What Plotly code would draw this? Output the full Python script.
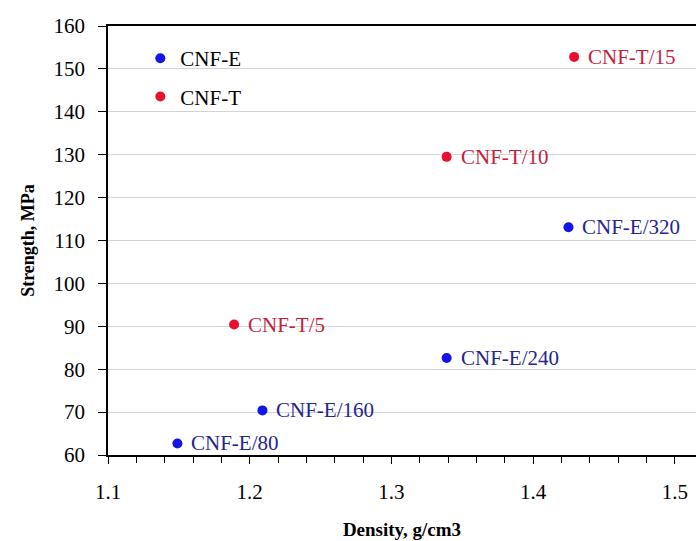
import plotly.graph_objects as go

# CNF-E series
e_labels = ["CNF-E/80", "CNF-E/160", "CNF-E/240", "CNF-E/320"]
e_density = [1.149, 1.209, 1.339, 1.425]
e_strength = [62.7, 70.4, 82.6, 113.1]

# CNF-T series
t_labels = ["CNF-T/5", "CNF-T/10", "CNF-T/15"]
t_density = [1.189, 1.339, 1.429]
t_strength = [90.4, 129.5, 152.8]

y_ticks = [60, 70, 80, 90, 100, 110, 120, 130, 140, 150, 160]
x_ticks = [1.1, 1.2, 1.3, 1.4, 1.5]

BLUE = "#1414e6"
BLUE_T = "#25258f"
RED = "#e8102e"
RED_T = "#c41e3e"
FONT = "Liberation Serif"

fig = go.Figure()
fig.add_trace(go.Scatter(
    x=e_density, y=e_strength, name="CNF-E", mode="markers",
    marker=dict(color=BLUE, size=10), legendgroup="e",
))
fig.add_trace(go.Scatter(
    x=t_density, y=t_strength, name="CNF-T", mode="markers",
    marker=dict(color=RED, size=10), legendgroup="t",
))

for xs, ys, labs, col in [(e_density, e_strength, e_labels, BLUE_T),
                          (t_density, t_strength, t_labels, RED_T)]:
    for x, y, lab in zip(xs, ys, labs):
        fig.add_annotation(x=x, y=y, text=lab, showarrow=False,
                           xanchor="left", yanchor="middle", xshift=12,
                           font=dict(family=FONT, size=21, color=col))

fig.update_layout(
    width=696, height=541,
    margin=dict(l=108, r=0, t=26, b=86),
    paper_bgcolor="white", plot_bgcolor="white",
    font=dict(family=FONT, size=21, color="black"),
    showlegend=True,
    legend=dict(x=0.055, y=0.972, xanchor="left", yanchor="top",
                bgcolor="rgba(0,0,0,0)", traceorder="grouped",
                tracegroupgap=8, font=dict(family=FONT, size=21, color="black")),
    xaxis=dict(
        range=[1.1, 1.515], tickvals=x_ticks, ticktext=[f"{v:.1f}" for v in x_ticks],
        showgrid=False, zeroline=False, showline=True, linecolor="black", linewidth=1.5,
        mirror=True, ticks="outside", ticklen=7, tickcolor="black",
        ticklabelstandoff=10,
        minor=dict(dtick=0.02, tick0=1.1, ticks="outside", ticklen=6, tickcolor="black", showgrid=False),
        title=dict(text="<b>Density, g/cm3</b>", font=dict(family=FONT, size=19), standoff=20),
        tickfont=dict(family=FONT, size=21),
    ),
    yaxis=dict(
        range=[60, 160], tickvals=y_ticks,
        showgrid=True, gridcolor="#d4d4d4", gridwidth=1,
        zeroline=False, showline=True, linecolor="black", linewidth=1.5,
        ticks="outside", ticklen=8, tickcolor="black",
        ticklabelstandoff=9,
        title=dict(text="<b>Strength, MPa</b>", font=dict(family=FONT, size=18), standoff=14),
        tickfont=dict(family=FONT, size=21),
    ),
)

fig.write_html("out.html")
